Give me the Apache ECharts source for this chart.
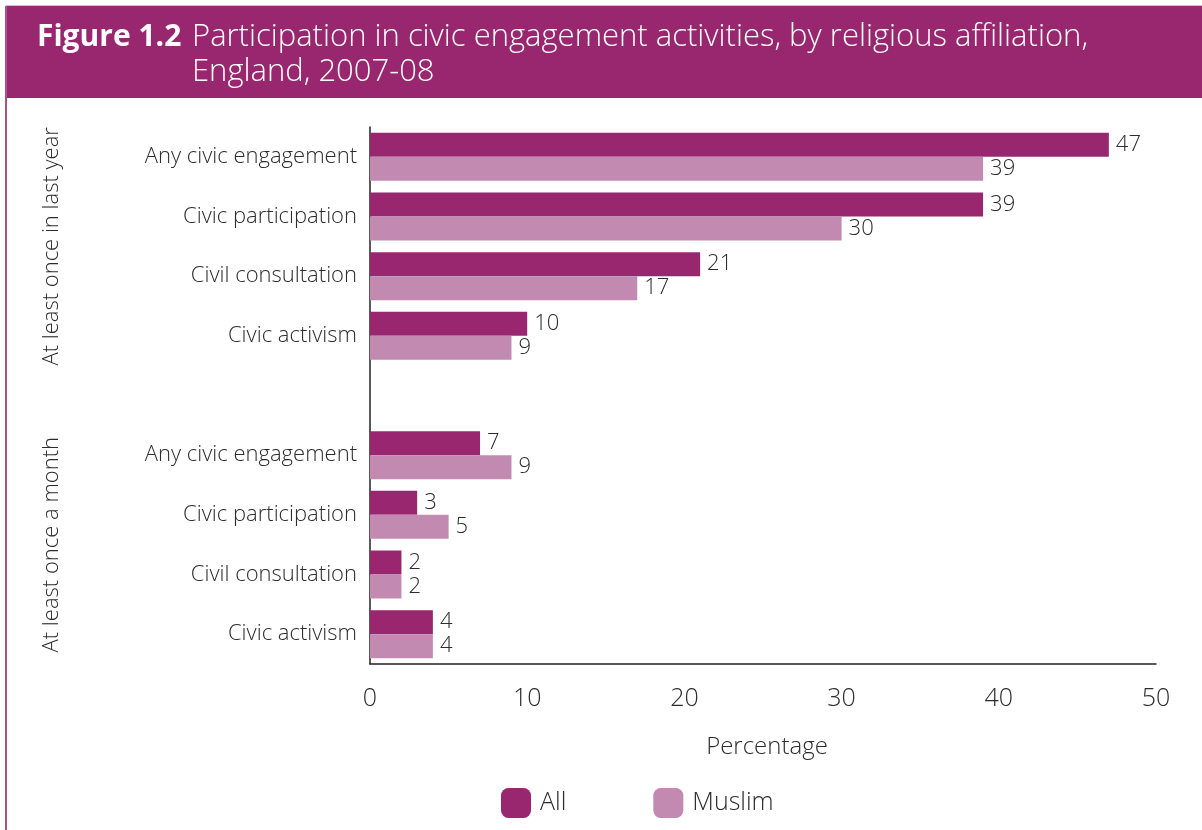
<!DOCTYPE html>
<html>
<head>
<meta charset="utf-8">
<script src="https://cdn.jsdelivr.net/npm/echarts@6/dist/echarts.min.js"></script>
<style>
  html, body { margin: 0; padding: 0; background: #ffffff; }
  #chart { width: 1202px; height: 830px; }
</style>
</head>
<body>
<div id="chart"></div>
<script>
// Civic engagement by religious affiliation, England 2007-08 (percentages)
const categories = [
  'Any civic engagement', 'Civic participation', 'Civil consultation', 'Civic activism',
  '',
  'Any civic engagement', 'Civic participation', 'Civil consultation', 'Civic activism'
];
const allValues    = [47, 39, 21, 10, null, 7, 3, 2, 4];
const muslimValues = [39, 30, 17,  9, null, 9, 5, 2, 4];
const seriesNames  = ['All', 'Muslim'];
const xTicks       = [0, 10, 20, 30, 40, 50];
const groupLabels  = ['At least once in last year', 'At least once a month'];
// category index ranges covered by each group label
const groupRanges  = [[0, 3], [5, 8]];

const FONT = '"Open Sans", "Noto Sans", sans-serif';
const C_ALL = '#98276F';
const C_MUS = '#C28AB1';
const TXT = '#2b2b2b';

const chart = echarts.init(document.getElementById('chart'), null, { renderer: 'canvas' });

const valueLabel = {
  show: true,
  position: 'right',
  distance: 7,
  fontFamily: FONT,
  fontSize: 22,
  fontWeight: 300,
  color: TXT,
  padding: [3, 0, 0, 0]
};

chart.setOption({
  animation: false,
  backgroundColor: '#ffffff',
  textStyle: { fontFamily: FONT },
  title: {
    left: 37,
    top: 20,
    padding: 0,
    text: '{b|Figure 1.2}{n|Participation in civic engagement activities, by religious affiliation,}\n{s|}{n|England, 2007-08}',
    textStyle: {
      rich: {
        b: { fontFamily: FONT, fontSize: 30, fontWeight: 'bold', color: '#ffffff', width: 155, lineHeight: 35 },
        n: { fontFamily: FONT, fontSize: 31, fontWeight: 300, color: '#ffffff', lineHeight: 35 },
        s: { width: 155, lineHeight: 35 }
      }
    }
  },
  legend: {
    data: seriesNames,
    left: 501,
    top: 788,
    padding: 0,
    itemWidth: 30,
    itemHeight: 30,
    itemGap: 87,
    icon: 'roundRect',
    textStyle: { fontFamily: FONT, fontSize: 25, fontWeight: 300, color: TXT, padding: [3, 0, 0, 4] }
  },
  grid: { left: 370, top: 127, width: 786, height: 537, containLabel: false },
  xAxis: {
    type: 'value',
    min: xTicks[0],
    max: xTicks[xTicks.length - 1],
    interval: xTicks[1] - xTicks[0],
    name: 'Percentage',
    nameLocation: 'middle',
    nameGap: 71,
    nameTextStyle: { fontFamily: FONT, fontSize: 24, fontWeight: 300, color: TXT, padding: [0, 0, 0, 8] },
    axisLine: { show: true, lineStyle: { color: '#222', width: 1.5 } },
    axisTick: { show: false },
    splitLine: { show: false },
    axisLabel: { margin: 22, fontFamily: FONT, fontSize: 25, fontWeight: 300, color: TXT }
  },
  yAxis: {
    type: 'category',
    inverse: true,
    data: categories,
    axisLine: { show: true, lineStyle: { color: '#222', width: 1.5 } },
    axisTick: { show: false },
    axisLabel: { margin: 13, fontFamily: FONT, fontSize: 22, fontWeight: 300, color: TXT }
  },
  series: [
    {
      name: seriesNames[0], type: 'bar', data: allValues,
      barWidth: 24, barGap: '0%',
      itemStyle: { color: C_ALL },
      label: valueLabel
    },
    {
      name: seriesNames[1], type: 'bar', data: muslimValues,
      barWidth: 24, barGap: '0%',
      itemStyle: { color: C_MUS },
      label: valueLabel
    }
  ]
});

// Header band, frame line and rotated group labels placed from the axis scale
const yMid = r => (chart.convertToPixel({ yAxisIndex: 0 }, r[0]) + chart.convertToPixel({ yAxisIndex: 0 }, r[1])) / 2;

chart.setOption({
  graphic: [
    { type: 'rect', z: -10, silent: true, shape: { x: 6, y: 5, width: 1196, height: 1 }, style: { fill: '#d8b9cc' } },
    { type: 'rect', z: -10, silent: true, shape: { x: 6, y: 6, width: 1196, height: 92 }, style: { fill: C_ALL } },
    { type: 'rect', z: -10, silent: true, shape: { x: 5, y: 6, width: 2, height: 824 }, style: { fill: '#a8548b' } }
  ].concat(groupLabels.map((t, i) => ({
    type: 'text',
    silent: true,
    x: 52,
    y: yMid(groupRanges[i]),
    rotation: Math.PI / 2,
    style: {
      text: t,
      fontFamily: FONT,
      fontSize: 22,
      fontWeight: 300,
      fill: TXT,
      align: 'center',
      verticalAlign: 'middle'
    }
  })))
});
</script>
</body>
</html>
